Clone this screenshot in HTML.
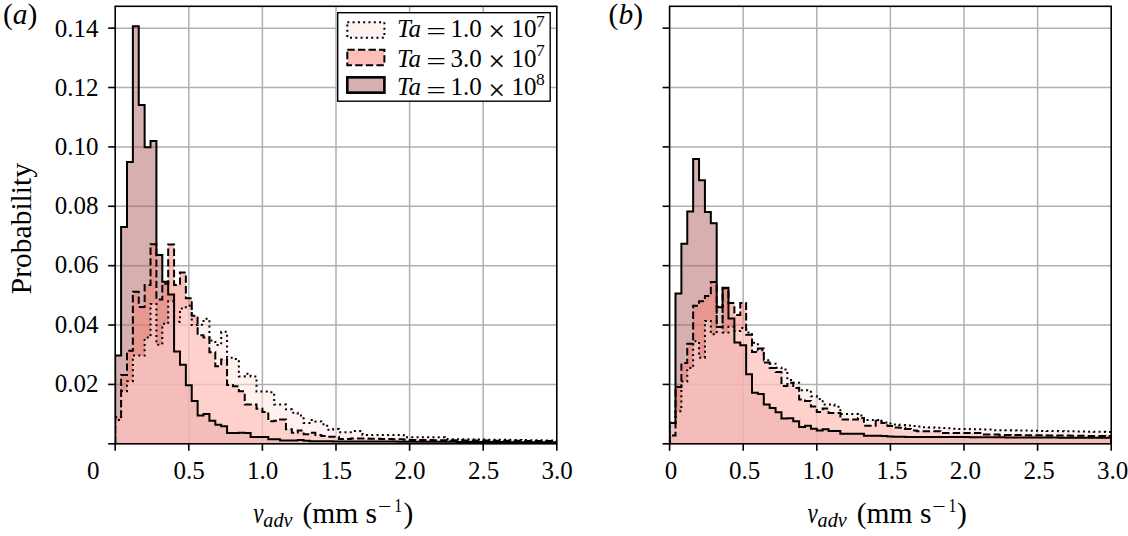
<!DOCTYPE html><html><head><meta charset="utf-8"><style>
html,body{margin:0;padding:0;background:#fff;}
svg{display:block;}
text{font-family:"Liberation Serif",serif;fill:#000;}
</style></head><body>
<svg width="1128" height="536" viewBox="0 0 1128 536">
<rect width="1128" height="536" fill="#fff"/>
<defs>
<clipPath id="clipa"><rect x="115.20" y="6.30" width="441.60" height="437.50"/></clipPath>
<clipPath id="clipb"><rect x="669.60" y="6.30" width="441.60" height="437.50"/></clipPath>
</defs>
<g stroke="#b0b0b0" stroke-width="1.5" fill="none">
<line x1="115.20" y1="384.42" x2="556.80" y2="384.42"/>
<line x1="115.20" y1="325.04" x2="556.80" y2="325.04"/>
<line x1="115.20" y1="265.66" x2="556.80" y2="265.66"/>
<line x1="115.20" y1="206.28" x2="556.80" y2="206.28"/>
<line x1="115.20" y1="146.90" x2="556.80" y2="146.90"/>
<line x1="115.20" y1="87.52" x2="556.80" y2="87.52"/>
<line x1="115.20" y1="28.14" x2="556.80" y2="28.14"/>
<line x1="188.80" y1="6.30" x2="188.80" y2="443.80"/>
<line x1="262.40" y1="6.30" x2="262.40" y2="443.80"/>
<line x1="336.00" y1="6.30" x2="336.00" y2="443.80"/>
<line x1="409.60" y1="6.30" x2="409.60" y2="443.80"/>
<line x1="483.20" y1="6.30" x2="483.20" y2="443.80"/>
</g>
<g clip-path="url(#clipa)">
<path d="M115.20,443.80 L115.20,355.62 L121.09,355.62 L121.09,227.06 L126.98,227.06 L126.98,162.04 L132.86,162.04 L132.86,26.36 L138.75,26.36 L138.75,105.04 L144.64,105.04 L144.64,147.20 L150.53,147.20 L150.53,140.96 L156.42,140.96 L156.42,254.97 L162.30,254.97 L162.30,281.69 L168.19,281.69 L168.19,294.46 L174.08,294.46 L174.08,351.46 L179.97,351.46 L179.97,364.82 L185.86,364.82 L185.86,385.31 L191.74,385.31 L191.74,401.05 L197.63,401.05 L197.63,415.59 L203.52,415.59 L203.52,414.11 L209.41,414.11 L209.41,420.64 L215.30,420.64 L215.30,424.80 L221.18,424.80 L221.18,426.28 L227.07,426.28 L227.07,433.11 L232.96,433.11 L232.96,433.11 L238.85,433.11 L238.85,432.81 L244.74,432.81 L244.74,433.11 L250.62,433.11 L250.62,436.97 L256.51,436.97 L256.51,436.97 L262.40,436.97 L262.40,436.97 L268.29,436.97 L268.29,439.35 L274.18,439.35 L274.18,439.35 L280.06,439.35 L280.06,440.53 L285.95,440.53 L285.95,440.53 L291.84,440.53 L291.84,440.53 L297.73,440.53 L297.73,439.94 L303.62,439.94 L303.62,440.83 L309.50,440.83 L309.50,441.13 L315.39,441.13 L315.39,441.13 L321.28,441.13 L321.28,441.13 L327.17,441.13 L327.17,441.13 L333.06,441.13 L333.06,441.42 L338.94,441.42 L338.94,441.42 L344.83,441.42 L344.83,441.42 L350.72,441.42 L350.72,441.42 L356.61,441.42 L356.61,441.45 L362.50,441.45 L362.50,441.48 L368.38,441.48 L368.38,441.50 L374.27,441.50 L374.27,441.53 L380.16,441.53 L380.16,441.56 L386.05,441.56 L386.05,441.58 L391.94,441.58 L391.94,441.61 L397.82,441.61 L397.82,441.63 L403.71,441.63 L403.71,441.66 L409.60,441.66 L409.60,441.69 L415.49,441.69 L415.49,441.71 L421.38,441.71 L421.38,441.74 L427.26,441.74 L427.26,441.77 L433.15,441.77 L433.15,441.79 L439.04,441.79 L439.04,441.82 L444.93,441.82 L444.93,441.84 L450.82,441.84 L450.82,441.87 L456.70,441.87 L456.70,441.90 L462.59,441.90 L462.59,441.92 L468.48,441.92 L468.48,441.95 L474.37,441.95 L474.37,441.97 L480.26,441.97 L480.26,442.00 L486.14,442.00 L486.14,442.03 L492.03,442.03 L492.03,442.05 L497.92,442.05 L497.92,442.08 L503.81,442.08 L503.81,442.11 L509.70,442.11 L509.70,442.13 L515.58,442.13 L515.58,442.16 L521.47,442.16 L521.47,442.18 L527.36,442.18 L527.36,442.21 L533.25,442.21 L533.25,442.24 L539.14,442.24 L539.14,442.26 L545.02,442.26 L545.02,442.29 L550.91,442.29 L550.91,442.32 L556.80,442.32 L556.80,443.80 Z" fill="rgb(176,96,96)" fill-opacity="0.500" stroke="none"/>
<path d="M115.20,443.80 L115.20,417.08 L121.09,417.08 L121.09,374.92 L126.98,374.92 L126.98,350.87 L132.86,350.87 L132.86,291.79 L138.75,291.79 L138.75,306.93 L144.64,306.93 L144.64,284.96 L150.53,284.96 L150.53,244.28 L156.42,244.28 L156.42,299.51 L162.30,299.51 L162.30,283.77 L168.19,283.77 L168.19,244.58 L174.08,244.58 L174.08,284.96 L179.97,284.96 L179.97,272.49 L185.86,272.49 L185.86,298.32 L191.74,298.32 L191.74,315.84 L197.63,315.84 L197.63,335.13 L203.52,335.13 L203.52,337.51 L209.41,337.51 L209.41,352.35 L215.30,352.35 L215.30,366.31 L221.18,366.31 L221.18,359.48 L227.07,359.48 L227.07,385.01 L232.96,385.01 L232.96,386.20 L238.85,386.20 L238.85,391.25 L244.74,391.25 L244.74,404.61 L250.62,404.61 L250.62,404.61 L256.51,404.61 L256.51,408.77 L262.40,408.77 L262.40,412.03 L268.29,412.03 L268.29,421.24 L274.18,421.24 L274.18,420.64 L280.06,420.64 L280.06,419.45 L285.95,419.45 L285.95,429.25 L291.84,429.25 L291.84,432.81 L297.73,432.81 L297.73,430.44 L303.62,430.44 L303.62,434.30 L309.50,434.30 L309.50,432.81 L315.39,432.81 L315.39,434.89 L321.28,434.89 L321.28,436.08 L327.17,436.08 L327.17,436.67 L333.06,436.67 L333.06,436.67 L338.94,436.67 L338.94,439.05 L344.83,439.05 L344.83,439.05 L350.72,439.05 L350.72,438.46 L356.61,438.46 L356.61,438.46 L362.50,438.46 L362.50,438.46 L368.38,438.46 L368.38,438.75 L374.27,438.75 L374.27,438.75 L380.16,438.75 L380.16,439.05 L386.05,439.05 L386.05,439.05 L391.94,439.05 L391.94,439.35 L397.82,439.35 L397.82,439.35 L403.71,439.35 L403.71,439.64 L409.60,439.64 L409.60,439.94 L415.49,439.94 L415.49,439.99 L421.38,439.99 L421.38,440.04 L427.26,440.04 L427.26,440.09 L433.15,440.09 L433.15,440.14 L439.04,440.14 L439.04,440.19 L444.93,440.19 L444.93,440.24 L450.82,440.24 L450.82,440.29 L456.70,440.29 L456.70,440.34 L462.59,440.34 L462.59,440.39 L468.48,440.39 L468.48,440.44 L474.37,440.44 L474.37,440.48 L480.26,440.48 L480.26,440.53 L486.14,440.53 L486.14,440.58 L492.03,440.58 L492.03,440.63 L497.92,440.63 L497.92,440.68 L503.81,440.68 L503.81,440.73 L509.70,440.73 L509.70,440.78 L515.58,440.78 L515.58,440.83 L521.47,440.83 L521.47,440.88 L527.36,440.88 L527.36,440.93 L533.25,440.93 L533.25,440.98 L539.14,440.98 L539.14,441.03 L545.02,441.03 L545.02,441.08 L550.91,441.08 L550.91,441.13 L556.80,441.13 L556.80,443.80 Z" fill="rgb(250,128,114)" fill-opacity="0.500" stroke="none"/>
<path d="M115.20,443.80 L115.20,420.05 L121.09,420.05 L121.09,391.25 L126.98,391.25 L126.98,381.15 L132.86,381.15 L132.86,355.62 L138.75,355.62 L138.75,355.62 L144.64,355.62 L144.64,337.51 L150.53,337.51 L150.53,303.96 L156.42,303.96 L156.42,344.64 L162.30,344.64 L162.30,323.85 L168.19,323.85 L168.19,301.29 L174.08,301.29 L174.08,321.77 L179.97,321.77 L179.97,308.41 L185.86,308.41 L185.86,305.74 L191.74,305.74 L191.74,325.04 L197.63,325.04 L197.63,324.74 L203.52,324.74 L203.52,318.81 L209.41,318.81 L209.41,340.48 L215.30,340.48 L215.30,344.93 L221.18,344.93 L221.18,331.87 L227.07,331.87 L227.07,357.70 L232.96,357.70 L232.96,358.89 L238.85,358.89 L238.85,376.40 L244.74,376.40 L244.74,373.73 L250.62,373.73 L250.62,376.40 L256.51,376.40 L256.51,391.55 L262.40,391.55 L262.40,391.55 L268.29,391.55 L268.29,392.14 L274.18,392.14 L274.18,404.61 L280.06,404.61 L280.06,404.61 L285.95,404.61 L285.95,409.36 L291.84,409.36 L291.84,412.63 L297.73,412.63 L297.73,415.59 L303.62,415.59 L303.62,423.02 L309.50,423.02 L309.50,420.05 L315.39,420.05 L315.39,421.53 L321.28,421.53 L321.28,424.20 L327.17,424.20 L327.17,429.85 L333.06,429.85 L333.06,428.95 L338.94,428.95 L338.94,432.22 L344.83,432.22 L344.83,432.22 L350.72,432.22 L350.72,431.03 L356.61,431.03 L356.61,431.03 L362.50,431.03 L362.50,434.89 L368.38,434.89 L368.38,434.89 L374.27,434.89 L374.27,434.89 L380.16,434.89 L380.16,434.89 L386.05,434.89 L386.05,434.89 L391.94,434.89 L391.94,434.89 L397.82,434.89 L397.82,434.89 L403.71,434.89 L403.71,437.27 L409.60,437.27 L409.60,437.27 L415.49,437.27 L415.49,437.27 L421.38,437.27 L421.38,437.27 L427.26,437.27 L427.26,437.27 L433.15,437.27 L433.15,437.27 L439.04,437.27 L439.04,437.27 L444.93,437.27 L444.93,439.05 L450.82,439.05 L450.82,439.13 L456.70,439.13 L456.70,439.21 L462.59,439.21 L462.59,439.30 L468.48,439.30 L468.48,439.38 L474.37,439.38 L474.37,439.46 L480.26,439.46 L480.26,439.54 L486.14,439.54 L486.14,439.63 L492.03,439.63 L492.03,439.71 L497.92,439.71 L497.92,439.79 L503.81,439.79 L503.81,439.87 L509.70,439.87 L509.70,439.96 L515.58,439.96 L515.58,440.04 L521.47,440.04 L521.47,440.12 L527.36,440.12 L527.36,440.20 L533.25,440.20 L533.25,440.29 L539.14,440.29 L539.14,440.37 L545.02,440.37 L545.02,440.45 L550.91,440.45 L550.91,440.53 L556.80,440.53 L556.80,443.80 Z" fill="rgb(255,228,225)" fill-opacity="0.500" stroke="none"/>
<path d="M115.20,443.80 L115.20,355.62 L121.09,355.62 L121.09,227.06 L126.98,227.06 L126.98,162.04 L132.86,162.04 L132.86,26.36 L138.75,26.36 L138.75,105.04 L144.64,105.04 L144.64,147.20 L150.53,147.20 L150.53,140.96 L156.42,140.96 L156.42,254.97 L162.30,254.97 L162.30,281.69 L168.19,281.69 L168.19,294.46 L174.08,294.46 L174.08,351.46 L179.97,351.46 L179.97,364.82 L185.86,364.82 L185.86,385.31 L191.74,385.31 L191.74,401.05 L197.63,401.05 L197.63,415.59 L203.52,415.59 L203.52,414.11 L209.41,414.11 L209.41,420.64 L215.30,420.64 L215.30,424.80 L221.18,424.80 L221.18,426.28 L227.07,426.28 L227.07,433.11 L232.96,433.11 L232.96,433.11 L238.85,433.11 L238.85,432.81 L244.74,432.81 L244.74,433.11 L250.62,433.11 L250.62,436.97 L256.51,436.97 L256.51,436.97 L262.40,436.97 L262.40,436.97 L268.29,436.97 L268.29,439.35 L274.18,439.35 L274.18,439.35 L280.06,439.35 L280.06,440.53 L285.95,440.53 L285.95,440.53 L291.84,440.53 L291.84,440.53 L297.73,440.53 L297.73,439.94 L303.62,439.94 L303.62,440.83 L309.50,440.83 L309.50,441.13 L315.39,441.13 L315.39,441.13 L321.28,441.13 L321.28,441.13 L327.17,441.13 L327.17,441.13 L333.06,441.13 L333.06,441.42 L338.94,441.42 L338.94,441.42 L344.83,441.42 L344.83,441.42 L350.72,441.42 L350.72,441.42 L356.61,441.42 L356.61,441.45 L362.50,441.45 L362.50,441.48 L368.38,441.48 L368.38,441.50 L374.27,441.50 L374.27,441.53 L380.16,441.53 L380.16,441.56 L386.05,441.56 L386.05,441.58 L391.94,441.58 L391.94,441.61 L397.82,441.61 L397.82,441.63 L403.71,441.63 L403.71,441.66 L409.60,441.66 L409.60,441.69 L415.49,441.69 L415.49,441.71 L421.38,441.71 L421.38,441.74 L427.26,441.74 L427.26,441.77 L433.15,441.77 L433.15,441.79 L439.04,441.79 L439.04,441.82 L444.93,441.82 L444.93,441.84 L450.82,441.84 L450.82,441.87 L456.70,441.87 L456.70,441.90 L462.59,441.90 L462.59,441.92 L468.48,441.92 L468.48,441.95 L474.37,441.95 L474.37,441.97 L480.26,441.97 L480.26,442.00 L486.14,442.00 L486.14,442.03 L492.03,442.03 L492.03,442.05 L497.92,442.05 L497.92,442.08 L503.81,442.08 L503.81,442.11 L509.70,442.11 L509.70,442.13 L515.58,442.13 L515.58,442.16 L521.47,442.16 L521.47,442.18 L527.36,442.18 L527.36,442.21 L533.25,442.21 L533.25,442.24 L539.14,442.24 L539.14,442.26 L545.02,442.26 L545.02,442.29 L550.91,442.29 L550.91,442.32 L556.80,442.32 L556.80,443.80" fill="none" stroke="#000" stroke-width="2.00" stroke-linejoin="miter"/>
<path d="M115.20,443.80 L115.20,417.08 L121.09,417.08 L121.09,374.92 L126.98,374.92 L126.98,350.87 L132.86,350.87 L132.86,291.79 L138.75,291.79 L138.75,306.93 L144.64,306.93 L144.64,284.96 L150.53,284.96 L150.53,244.28 L156.42,244.28 L156.42,299.51 L162.30,299.51 L162.30,283.77 L168.19,283.77 L168.19,244.58 L174.08,244.58 L174.08,284.96 L179.97,284.96 L179.97,272.49 L185.86,272.49 L185.86,298.32 L191.74,298.32 L191.74,315.84 L197.63,315.84 L197.63,335.13 L203.52,335.13 L203.52,337.51 L209.41,337.51 L209.41,352.35 L215.30,352.35 L215.30,366.31 L221.18,366.31 L221.18,359.48 L227.07,359.48 L227.07,385.01 L232.96,385.01 L232.96,386.20 L238.85,386.20 L238.85,391.25 L244.74,391.25 L244.74,404.61 L250.62,404.61 L250.62,404.61 L256.51,404.61 L256.51,408.77 L262.40,408.77 L262.40,412.03 L268.29,412.03 L268.29,421.24 L274.18,421.24 L274.18,420.64 L280.06,420.64 L280.06,419.45 L285.95,419.45 L285.95,429.25 L291.84,429.25 L291.84,432.81 L297.73,432.81 L297.73,430.44 L303.62,430.44 L303.62,434.30 L309.50,434.30 L309.50,432.81 L315.39,432.81 L315.39,434.89 L321.28,434.89 L321.28,436.08 L327.17,436.08 L327.17,436.67 L333.06,436.67 L333.06,436.67 L338.94,436.67 L338.94,439.05 L344.83,439.05 L344.83,439.05 L350.72,439.05 L350.72,438.46 L356.61,438.46 L356.61,438.46 L362.50,438.46 L362.50,438.46 L368.38,438.46 L368.38,438.75 L374.27,438.75 L374.27,438.75 L380.16,438.75 L380.16,439.05 L386.05,439.05 L386.05,439.05 L391.94,439.05 L391.94,439.35 L397.82,439.35 L397.82,439.35 L403.71,439.35 L403.71,439.64 L409.60,439.64 L409.60,439.94 L415.49,439.94 L415.49,439.99 L421.38,439.99 L421.38,440.04 L427.26,440.04 L427.26,440.09 L433.15,440.09 L433.15,440.14 L439.04,440.14 L439.04,440.19 L444.93,440.19 L444.93,440.24 L450.82,440.24 L450.82,440.29 L456.70,440.29 L456.70,440.34 L462.59,440.34 L462.59,440.39 L468.48,440.39 L468.48,440.44 L474.37,440.44 L474.37,440.48 L480.26,440.48 L480.26,440.53 L486.14,440.53 L486.14,440.58 L492.03,440.58 L492.03,440.63 L497.92,440.63 L497.92,440.68 L503.81,440.68 L503.81,440.73 L509.70,440.73 L509.70,440.78 L515.58,440.78 L515.58,440.83 L521.47,440.83 L521.47,440.88 L527.36,440.88 L527.36,440.93 L533.25,440.93 L533.25,440.98 L539.14,440.98 L539.14,441.03 L545.02,441.03 L545.02,441.08 L550.91,441.08 L550.91,441.13 L556.80,441.13 L556.80,443.80" fill="none" stroke="#000" stroke-width="2.00" stroke-dasharray="7.4,3.2"/>
<path d="M115.20,443.80 L115.20,420.05 L121.09,420.05 L121.09,391.25 L126.98,391.25 L126.98,381.15 L132.86,381.15 L132.86,355.62 L138.75,355.62 L138.75,355.62 L144.64,355.62 L144.64,337.51 L150.53,337.51 L150.53,303.96 L156.42,303.96 L156.42,344.64 L162.30,344.64 L162.30,323.85 L168.19,323.85 L168.19,301.29 L174.08,301.29 L174.08,321.77 L179.97,321.77 L179.97,308.41 L185.86,308.41 L185.86,305.74 L191.74,305.74 L191.74,325.04 L197.63,325.04 L197.63,324.74 L203.52,324.74 L203.52,318.81 L209.41,318.81 L209.41,340.48 L215.30,340.48 L215.30,344.93 L221.18,344.93 L221.18,331.87 L227.07,331.87 L227.07,357.70 L232.96,357.70 L232.96,358.89 L238.85,358.89 L238.85,376.40 L244.74,376.40 L244.74,373.73 L250.62,373.73 L250.62,376.40 L256.51,376.40 L256.51,391.55 L262.40,391.55 L262.40,391.55 L268.29,391.55 L268.29,392.14 L274.18,392.14 L274.18,404.61 L280.06,404.61 L280.06,404.61 L285.95,404.61 L285.95,409.36 L291.84,409.36 L291.84,412.63 L297.73,412.63 L297.73,415.59 L303.62,415.59 L303.62,423.02 L309.50,423.02 L309.50,420.05 L315.39,420.05 L315.39,421.53 L321.28,421.53 L321.28,424.20 L327.17,424.20 L327.17,429.85 L333.06,429.85 L333.06,428.95 L338.94,428.95 L338.94,432.22 L344.83,432.22 L344.83,432.22 L350.72,432.22 L350.72,431.03 L356.61,431.03 L356.61,431.03 L362.50,431.03 L362.50,434.89 L368.38,434.89 L368.38,434.89 L374.27,434.89 L374.27,434.89 L380.16,434.89 L380.16,434.89 L386.05,434.89 L386.05,434.89 L391.94,434.89 L391.94,434.89 L397.82,434.89 L397.82,434.89 L403.71,434.89 L403.71,437.27 L409.60,437.27 L409.60,437.27 L415.49,437.27 L415.49,437.27 L421.38,437.27 L421.38,437.27 L427.26,437.27 L427.26,437.27 L433.15,437.27 L433.15,437.27 L439.04,437.27 L439.04,437.27 L444.93,437.27 L444.93,439.05 L450.82,439.05 L450.82,439.13 L456.70,439.13 L456.70,439.21 L462.59,439.21 L462.59,439.30 L468.48,439.30 L468.48,439.38 L474.37,439.38 L474.37,439.46 L480.26,439.46 L480.26,439.54 L486.14,439.54 L486.14,439.63 L492.03,439.63 L492.03,439.71 L497.92,439.71 L497.92,439.79 L503.81,439.79 L503.81,439.87 L509.70,439.87 L509.70,439.96 L515.58,439.96 L515.58,440.04 L521.47,440.04 L521.47,440.12 L527.36,440.12 L527.36,440.20 L533.25,440.20 L533.25,440.29 L539.14,440.29 L539.14,440.37 L545.02,440.37 L545.02,440.45 L550.91,440.45 L550.91,440.53 L556.80,440.53 L556.80,443.80" fill="none" stroke="#000" stroke-width="2.00" stroke-dasharray="2,3.3"/>
</g>
<rect x="115.20" y="6.30" width="441.60" height="437.50" fill="none" stroke="#000" stroke-width="1.6"/>
<g stroke="#000" stroke-width="1.6">
<line x1="108.20" y1="443.80" x2="115.20" y2="443.80"/>
<line x1="108.20" y1="384.42" x2="115.20" y2="384.42"/>
<line x1="108.20" y1="325.04" x2="115.20" y2="325.04"/>
<line x1="108.20" y1="265.66" x2="115.20" y2="265.66"/>
<line x1="108.20" y1="206.28" x2="115.20" y2="206.28"/>
<line x1="108.20" y1="146.90" x2="115.20" y2="146.90"/>
<line x1="108.20" y1="87.52" x2="115.20" y2="87.52"/>
<line x1="108.20" y1="28.14" x2="115.20" y2="28.14"/>
<line x1="115.20" y1="443.80" x2="115.20" y2="450.80"/>
<line x1="188.80" y1="443.80" x2="188.80" y2="450.80"/>
<line x1="262.40" y1="443.80" x2="262.40" y2="450.80"/>
<line x1="336.00" y1="443.80" x2="336.00" y2="450.80"/>
<line x1="409.60" y1="443.80" x2="409.60" y2="450.80"/>
<line x1="483.20" y1="443.80" x2="483.20" y2="450.80"/>
<line x1="556.80" y1="443.80" x2="556.80" y2="450.80"/>
</g>
<g font-size="25" text-anchor="middle">
<text x="99.40" y="479.3" text-anchor="end">0</text>
<text x="189.10" y="479.3">0.5</text>
<text x="262.70" y="479.3">1.0</text>
<text x="336.30" y="479.3">1.5</text>
<text x="409.90" y="479.3">2.0</text>
<text x="483.50" y="479.3">2.5</text>
<text x="557.10" y="479.3">3.0</text>
</g>
<text transform="translate(253.30,522.7) scale(0.78,1)" font-size="29.5" font-style="italic">v</text>
<text x="263.30" y="526.6" font-size="20.2" font-style="italic">adv</text>
<text x="302.50" y="522.7" font-size="29.5">(mm s</text>
<text transform="translate(377.90,513.1) scale(1.25,1)" font-size="19">−</text>
<text transform="translate(394.20,512.0) scale(0.8,1)" font-size="19.7">1</text>
<text x="403.50" y="522.7" font-size="29.5">)</text>
<g stroke="#b0b0b0" stroke-width="1.5" fill="none">
<line x1="669.60" y1="384.42" x2="1111.20" y2="384.42"/>
<line x1="669.60" y1="325.04" x2="1111.20" y2="325.04"/>
<line x1="669.60" y1="265.66" x2="1111.20" y2="265.66"/>
<line x1="669.60" y1="206.28" x2="1111.20" y2="206.28"/>
<line x1="669.60" y1="146.90" x2="1111.20" y2="146.90"/>
<line x1="669.60" y1="87.52" x2="1111.20" y2="87.52"/>
<line x1="669.60" y1="28.14" x2="1111.20" y2="28.14"/>
<line x1="743.20" y1="6.30" x2="743.20" y2="443.80"/>
<line x1="816.80" y1="6.30" x2="816.80" y2="443.80"/>
<line x1="890.40" y1="6.30" x2="890.40" y2="443.80"/>
<line x1="964.00" y1="6.30" x2="964.00" y2="443.80"/>
<line x1="1037.60" y1="6.30" x2="1037.60" y2="443.80"/>
</g>
<g clip-path="url(#clipb)">
<path d="M669.60,443.80 L669.60,423.02 L675.49,423.02 L675.49,293.57 L681.38,293.57 L681.38,243.69 L687.26,243.69 L687.26,211.62 L693.15,211.62 L693.15,159.07 L699.04,159.07 L699.04,180.15 L704.93,180.15 L704.93,211.92 L710.82,211.92 L710.82,223.20 L716.70,223.20 L716.70,307.23 L722.59,307.23 L722.59,287.63 L728.48,287.63 L728.48,318.51 L734.37,318.51 L734.37,342.56 L740.26,342.56 L740.26,345.23 L746.14,345.23 L746.14,374.33 L752.03,374.33 L752.03,392.73 L757.92,392.73 L757.92,393.92 L763.81,393.92 L763.81,404.61 L769.70,404.61 L769.70,407.88 L775.58,407.88 L775.58,412.33 L781.47,412.33 L781.47,418.56 L787.36,418.56 L787.36,418.27 L793.25,418.27 L793.25,421.24 L799.14,421.24 L799.14,426.88 L805.02,426.88 L805.02,425.69 L810.91,425.69 L810.91,428.66 L816.80,428.66 L816.80,430.44 L822.69,430.44 L822.69,429.25 L828.58,429.25 L828.58,431.03 L834.46,431.03 L834.46,431.03 L840.35,431.03 L840.35,433.71 L846.24,433.71 L846.24,433.71 L852.13,433.71 L852.13,433.71 L858.02,433.71 L858.02,433.71 L863.90,433.71 L863.90,435.78 L869.79,435.78 L869.79,435.78 L875.68,435.78 L875.68,435.78 L881.57,435.78 L881.57,436.08 L887.46,436.08 L887.46,436.38 L893.34,436.38 L893.34,436.67 L899.23,436.67 L899.23,436.67 L905.12,436.67 L905.12,436.97 L911.01,436.97 L911.01,436.97 L916.90,436.97 L916.90,436.97 L922.78,436.97 L922.78,436.97 L928.67,436.97 L928.67,436.97 L934.56,436.97 L934.56,436.97 L940.45,436.97 L940.45,436.97 L946.34,436.97 L946.34,436.97 L952.22,436.97 L952.22,436.97 L958.11,436.97 L958.11,436.97 L964.00,436.97 L964.00,436.97 L969.89,436.97 L969.89,437.27 L975.78,437.27 L975.78,437.27 L981.66,437.27 L981.66,437.27 L987.55,437.27 L987.55,437.30 L993.44,437.30 L993.44,437.32 L999.33,437.32 L999.33,437.35 L1005.22,437.35 L1005.22,437.38 L1011.10,437.38 L1011.10,437.41 L1016.99,437.41 L1016.99,437.44 L1022.88,437.44 L1022.88,437.47 L1028.77,437.47 L1028.77,437.49 L1034.66,437.49 L1034.66,437.52 L1040.54,437.52 L1040.54,437.55 L1046.43,437.55 L1046.43,437.58 L1052.32,437.58 L1052.32,437.61 L1058.21,437.61 L1058.21,437.64 L1064.10,437.64 L1064.10,437.66 L1069.98,437.66 L1069.98,437.69 L1075.87,437.69 L1075.87,437.72 L1081.76,437.72 L1081.76,437.75 L1087.65,437.75 L1087.65,437.78 L1093.54,437.78 L1093.54,437.81 L1099.42,437.81 L1099.42,437.83 L1105.31,437.83 L1105.31,437.86 L1111.20,437.86 L1111.20,443.80 Z" fill="rgb(176,96,96)" fill-opacity="0.500" stroke="none"/>
<path d="M669.60,443.80 L669.60,435.49 L675.49,435.49 L675.49,387.09 L681.38,387.09 L681.38,363.04 L687.26,363.04 L687.26,343.74 L693.15,343.74 L693.15,305.74 L699.04,305.74 L699.04,301.29 L704.93,301.29 L704.93,295.94 L710.82,295.94 L710.82,281.99 L716.70,281.99 L716.70,327.12 L722.59,327.12 L722.59,288.22 L728.48,288.22 L728.48,303.07 L734.37,303.07 L734.37,314.95 L740.26,314.95 L740.26,303.07 L746.14,303.07 L746.14,334.84 L752.03,334.84 L752.03,352.06 L757.92,352.06 L757.92,348.50 L763.81,348.50 L763.81,362.45 L769.70,362.45 L769.70,368.09 L775.58,368.09 L775.58,371.95 L781.47,371.95 L781.47,385.90 L787.36,385.90 L787.36,382.64 L793.25,382.64 L793.25,387.98 L799.14,387.98 L799.14,399.56 L805.02,399.56 L805.02,401.05 L810.91,401.05 L810.91,406.39 L816.80,406.39 L816.80,412.03 L822.69,412.03 L822.69,408.47 L828.58,408.47 L828.58,412.92 L834.46,412.92 L834.46,412.92 L840.35,412.92 L840.35,419.45 L846.24,419.45 L846.24,419.45 L852.13,419.45 L852.13,419.45 L858.02,419.45 L858.02,417.97 L863.90,417.97 L863.90,425.69 L869.79,425.69 L869.79,425.69 L875.68,425.69 L875.68,420.64 L881.57,420.64 L881.57,423.02 L887.46,423.02 L887.46,425.99 L893.34,425.99 L893.34,427.47 L899.23,427.47 L899.23,427.77 L905.12,427.77 L905.12,428.95 L911.01,428.95 L911.01,430.44 L916.90,430.44 L916.90,431.33 L922.78,431.33 L922.78,431.33 L928.67,431.33 L928.67,431.33 L934.56,431.33 L934.56,431.33 L940.45,431.33 L940.45,433.11 L946.34,433.11 L946.34,433.11 L952.22,433.11 L952.22,433.11 L958.11,433.11 L958.11,433.11 L964.00,433.11 L964.00,433.11 L969.89,433.11 L969.89,433.11 L975.78,433.11 L975.78,433.11 L981.66,433.11 L981.66,434.60 L987.55,434.60 L987.55,434.60 L993.44,434.60 L993.44,434.60 L999.33,434.60 L999.33,434.89 L1005.22,434.89 L1005.22,434.96 L1011.10,434.96 L1011.10,435.02 L1016.99,435.02 L1016.99,435.09 L1022.88,435.09 L1022.88,435.16 L1028.77,435.16 L1028.77,435.22 L1034.66,435.22 L1034.66,435.29 L1040.54,435.29 L1040.54,435.35 L1046.43,435.35 L1046.43,435.42 L1052.32,435.42 L1052.32,435.49 L1058.21,435.49 L1058.21,435.55 L1064.10,435.55 L1064.10,435.62 L1069.98,435.62 L1069.98,435.68 L1075.87,435.68 L1075.87,435.75 L1081.76,435.75 L1081.76,435.82 L1087.65,435.82 L1087.65,435.88 L1093.54,435.88 L1093.54,435.95 L1099.42,435.95 L1099.42,436.01 L1105.31,436.01 L1105.31,436.08 L1111.20,436.08 L1111.20,443.80 Z" fill="rgb(250,128,114)" fill-opacity="0.500" stroke="none"/>
<path d="M669.60,443.80 L669.60,422.42 L675.49,422.42 L675.49,411.14 L681.38,411.14 L681.38,381.45 L687.26,381.45 L687.26,368.09 L693.15,368.09 L693.15,341.37 L699.04,341.37 L699.04,357.70 L704.93,357.70 L704.93,320.88 L710.82,320.88 L710.82,334.24 L716.70,334.24 L716.70,306.34 L722.59,306.34 L722.59,332.46 L728.48,332.46 L728.48,326.82 L734.37,326.82 L734.37,330.98 L740.26,330.98 L740.26,328.01 L746.14,328.01 L746.14,332.46 L752.03,332.46 L752.03,342.85 L757.92,342.85 L757.92,350.28 L763.81,350.28 L763.81,360.37 L769.70,360.37 L769.70,363.64 L775.58,363.64 L775.58,367.79 L781.47,367.79 L781.47,369.57 L787.36,369.57 L787.36,379.97 L793.25,379.97 L793.25,382.64 L799.14,382.64 L799.14,390.36 L805.02,390.36 L805.02,390.36 L810.91,390.36 L810.91,396.30 L816.80,396.30 L816.80,398.97 L822.69,398.97 L822.69,404.61 L828.58,404.61 L828.58,404.61 L834.46,404.61 L834.46,406.69 L840.35,406.69 L840.35,414.11 L846.24,414.11 L846.24,414.11 L852.13,414.11 L852.13,414.11 L858.02,414.11 L858.02,415.59 L863.90,415.59 L863.90,420.05 L869.79,420.05 L869.79,420.05 L875.68,420.05 L875.68,420.05 L881.57,420.05 L881.57,422.42 L887.46,422.42 L887.46,423.61 L893.34,423.61 L893.34,424.50 L899.23,424.50 L899.23,425.10 L905.12,425.10 L905.12,425.39 L911.01,425.39 L911.01,425.99 L916.90,425.99 L916.90,426.58 L922.78,426.58 L922.78,427.17 L928.67,427.17 L928.67,427.47 L934.56,427.47 L934.56,427.77 L940.45,427.77 L940.45,428.06 L946.34,428.06 L946.34,428.36 L952.22,428.36 L952.22,428.66 L958.11,428.66 L958.11,428.95 L964.00,428.95 L964.00,428.95 L969.89,428.95 L969.89,429.25 L975.78,429.25 L975.78,429.25 L981.66,429.25 L981.66,429.55 L987.55,429.55 L987.55,429.55 L993.44,429.55 L993.44,430.14 L999.33,430.14 L999.33,430.24 L1005.22,430.24 L1005.22,430.33 L1011.10,430.33 L1011.10,430.42 L1016.99,430.42 L1016.99,430.52 L1022.88,430.52 L1022.88,430.61 L1028.77,430.61 L1028.77,430.71 L1034.66,430.71 L1034.66,430.80 L1040.54,430.80 L1040.54,430.89 L1046.43,430.89 L1046.43,430.99 L1052.32,430.99 L1052.32,431.08 L1058.21,431.08 L1058.21,431.17 L1064.10,431.17 L1064.10,431.27 L1069.98,431.27 L1069.98,431.36 L1075.87,431.36 L1075.87,431.46 L1081.76,431.46 L1081.76,431.55 L1087.65,431.55 L1087.65,431.64 L1093.54,431.64 L1093.54,431.74 L1099.42,431.74 L1099.42,431.83 L1105.31,431.83 L1105.31,431.92 L1111.20,431.92 L1111.20,443.80 Z" fill="rgb(255,228,225)" fill-opacity="0.500" stroke="none"/>
<path d="M669.60,443.80 L669.60,423.02 L675.49,423.02 L675.49,293.57 L681.38,293.57 L681.38,243.69 L687.26,243.69 L687.26,211.62 L693.15,211.62 L693.15,159.07 L699.04,159.07 L699.04,180.15 L704.93,180.15 L704.93,211.92 L710.82,211.92 L710.82,223.20 L716.70,223.20 L716.70,307.23 L722.59,307.23 L722.59,287.63 L728.48,287.63 L728.48,318.51 L734.37,318.51 L734.37,342.56 L740.26,342.56 L740.26,345.23 L746.14,345.23 L746.14,374.33 L752.03,374.33 L752.03,392.73 L757.92,392.73 L757.92,393.92 L763.81,393.92 L763.81,404.61 L769.70,404.61 L769.70,407.88 L775.58,407.88 L775.58,412.33 L781.47,412.33 L781.47,418.56 L787.36,418.56 L787.36,418.27 L793.25,418.27 L793.25,421.24 L799.14,421.24 L799.14,426.88 L805.02,426.88 L805.02,425.69 L810.91,425.69 L810.91,428.66 L816.80,428.66 L816.80,430.44 L822.69,430.44 L822.69,429.25 L828.58,429.25 L828.58,431.03 L834.46,431.03 L834.46,431.03 L840.35,431.03 L840.35,433.71 L846.24,433.71 L846.24,433.71 L852.13,433.71 L852.13,433.71 L858.02,433.71 L858.02,433.71 L863.90,433.71 L863.90,435.78 L869.79,435.78 L869.79,435.78 L875.68,435.78 L875.68,435.78 L881.57,435.78 L881.57,436.08 L887.46,436.08 L887.46,436.38 L893.34,436.38 L893.34,436.67 L899.23,436.67 L899.23,436.67 L905.12,436.67 L905.12,436.97 L911.01,436.97 L911.01,436.97 L916.90,436.97 L916.90,436.97 L922.78,436.97 L922.78,436.97 L928.67,436.97 L928.67,436.97 L934.56,436.97 L934.56,436.97 L940.45,436.97 L940.45,436.97 L946.34,436.97 L946.34,436.97 L952.22,436.97 L952.22,436.97 L958.11,436.97 L958.11,436.97 L964.00,436.97 L964.00,436.97 L969.89,436.97 L969.89,437.27 L975.78,437.27 L975.78,437.27 L981.66,437.27 L981.66,437.27 L987.55,437.27 L987.55,437.30 L993.44,437.30 L993.44,437.32 L999.33,437.32 L999.33,437.35 L1005.22,437.35 L1005.22,437.38 L1011.10,437.38 L1011.10,437.41 L1016.99,437.41 L1016.99,437.44 L1022.88,437.44 L1022.88,437.47 L1028.77,437.47 L1028.77,437.49 L1034.66,437.49 L1034.66,437.52 L1040.54,437.52 L1040.54,437.55 L1046.43,437.55 L1046.43,437.58 L1052.32,437.58 L1052.32,437.61 L1058.21,437.61 L1058.21,437.64 L1064.10,437.64 L1064.10,437.66 L1069.98,437.66 L1069.98,437.69 L1075.87,437.69 L1075.87,437.72 L1081.76,437.72 L1081.76,437.75 L1087.65,437.75 L1087.65,437.78 L1093.54,437.78 L1093.54,437.81 L1099.42,437.81 L1099.42,437.83 L1105.31,437.83 L1105.31,437.86 L1111.20,437.86 L1111.20,443.80" fill="none" stroke="#000" stroke-width="2.00" stroke-linejoin="miter"/>
<path d="M669.60,443.80 L669.60,435.49 L675.49,435.49 L675.49,387.09 L681.38,387.09 L681.38,363.04 L687.26,363.04 L687.26,343.74 L693.15,343.74 L693.15,305.74 L699.04,305.74 L699.04,301.29 L704.93,301.29 L704.93,295.94 L710.82,295.94 L710.82,281.99 L716.70,281.99 L716.70,327.12 L722.59,327.12 L722.59,288.22 L728.48,288.22 L728.48,303.07 L734.37,303.07 L734.37,314.95 L740.26,314.95 L740.26,303.07 L746.14,303.07 L746.14,334.84 L752.03,334.84 L752.03,352.06 L757.92,352.06 L757.92,348.50 L763.81,348.50 L763.81,362.45 L769.70,362.45 L769.70,368.09 L775.58,368.09 L775.58,371.95 L781.47,371.95 L781.47,385.90 L787.36,385.90 L787.36,382.64 L793.25,382.64 L793.25,387.98 L799.14,387.98 L799.14,399.56 L805.02,399.56 L805.02,401.05 L810.91,401.05 L810.91,406.39 L816.80,406.39 L816.80,412.03 L822.69,412.03 L822.69,408.47 L828.58,408.47 L828.58,412.92 L834.46,412.92 L834.46,412.92 L840.35,412.92 L840.35,419.45 L846.24,419.45 L846.24,419.45 L852.13,419.45 L852.13,419.45 L858.02,419.45 L858.02,417.97 L863.90,417.97 L863.90,425.69 L869.79,425.69 L869.79,425.69 L875.68,425.69 L875.68,420.64 L881.57,420.64 L881.57,423.02 L887.46,423.02 L887.46,425.99 L893.34,425.99 L893.34,427.47 L899.23,427.47 L899.23,427.77 L905.12,427.77 L905.12,428.95 L911.01,428.95 L911.01,430.44 L916.90,430.44 L916.90,431.33 L922.78,431.33 L922.78,431.33 L928.67,431.33 L928.67,431.33 L934.56,431.33 L934.56,431.33 L940.45,431.33 L940.45,433.11 L946.34,433.11 L946.34,433.11 L952.22,433.11 L952.22,433.11 L958.11,433.11 L958.11,433.11 L964.00,433.11 L964.00,433.11 L969.89,433.11 L969.89,433.11 L975.78,433.11 L975.78,433.11 L981.66,433.11 L981.66,434.60 L987.55,434.60 L987.55,434.60 L993.44,434.60 L993.44,434.60 L999.33,434.60 L999.33,434.89 L1005.22,434.89 L1005.22,434.96 L1011.10,434.96 L1011.10,435.02 L1016.99,435.02 L1016.99,435.09 L1022.88,435.09 L1022.88,435.16 L1028.77,435.16 L1028.77,435.22 L1034.66,435.22 L1034.66,435.29 L1040.54,435.29 L1040.54,435.35 L1046.43,435.35 L1046.43,435.42 L1052.32,435.42 L1052.32,435.49 L1058.21,435.49 L1058.21,435.55 L1064.10,435.55 L1064.10,435.62 L1069.98,435.62 L1069.98,435.68 L1075.87,435.68 L1075.87,435.75 L1081.76,435.75 L1081.76,435.82 L1087.65,435.82 L1087.65,435.88 L1093.54,435.88 L1093.54,435.95 L1099.42,435.95 L1099.42,436.01 L1105.31,436.01 L1105.31,436.08 L1111.20,436.08 L1111.20,443.80" fill="none" stroke="#000" stroke-width="2.00" stroke-dasharray="7.4,3.2"/>
<path d="M669.60,443.80 L669.60,422.42 L675.49,422.42 L675.49,411.14 L681.38,411.14 L681.38,381.45 L687.26,381.45 L687.26,368.09 L693.15,368.09 L693.15,341.37 L699.04,341.37 L699.04,357.70 L704.93,357.70 L704.93,320.88 L710.82,320.88 L710.82,334.24 L716.70,334.24 L716.70,306.34 L722.59,306.34 L722.59,332.46 L728.48,332.46 L728.48,326.82 L734.37,326.82 L734.37,330.98 L740.26,330.98 L740.26,328.01 L746.14,328.01 L746.14,332.46 L752.03,332.46 L752.03,342.85 L757.92,342.85 L757.92,350.28 L763.81,350.28 L763.81,360.37 L769.70,360.37 L769.70,363.64 L775.58,363.64 L775.58,367.79 L781.47,367.79 L781.47,369.57 L787.36,369.57 L787.36,379.97 L793.25,379.97 L793.25,382.64 L799.14,382.64 L799.14,390.36 L805.02,390.36 L805.02,390.36 L810.91,390.36 L810.91,396.30 L816.80,396.30 L816.80,398.97 L822.69,398.97 L822.69,404.61 L828.58,404.61 L828.58,404.61 L834.46,404.61 L834.46,406.69 L840.35,406.69 L840.35,414.11 L846.24,414.11 L846.24,414.11 L852.13,414.11 L852.13,414.11 L858.02,414.11 L858.02,415.59 L863.90,415.59 L863.90,420.05 L869.79,420.05 L869.79,420.05 L875.68,420.05 L875.68,420.05 L881.57,420.05 L881.57,422.42 L887.46,422.42 L887.46,423.61 L893.34,423.61 L893.34,424.50 L899.23,424.50 L899.23,425.10 L905.12,425.10 L905.12,425.39 L911.01,425.39 L911.01,425.99 L916.90,425.99 L916.90,426.58 L922.78,426.58 L922.78,427.17 L928.67,427.17 L928.67,427.47 L934.56,427.47 L934.56,427.77 L940.45,427.77 L940.45,428.06 L946.34,428.06 L946.34,428.36 L952.22,428.36 L952.22,428.66 L958.11,428.66 L958.11,428.95 L964.00,428.95 L964.00,428.95 L969.89,428.95 L969.89,429.25 L975.78,429.25 L975.78,429.25 L981.66,429.25 L981.66,429.55 L987.55,429.55 L987.55,429.55 L993.44,429.55 L993.44,430.14 L999.33,430.14 L999.33,430.24 L1005.22,430.24 L1005.22,430.33 L1011.10,430.33 L1011.10,430.42 L1016.99,430.42 L1016.99,430.52 L1022.88,430.52 L1022.88,430.61 L1028.77,430.61 L1028.77,430.71 L1034.66,430.71 L1034.66,430.80 L1040.54,430.80 L1040.54,430.89 L1046.43,430.89 L1046.43,430.99 L1052.32,430.99 L1052.32,431.08 L1058.21,431.08 L1058.21,431.17 L1064.10,431.17 L1064.10,431.27 L1069.98,431.27 L1069.98,431.36 L1075.87,431.36 L1075.87,431.46 L1081.76,431.46 L1081.76,431.55 L1087.65,431.55 L1087.65,431.64 L1093.54,431.64 L1093.54,431.74 L1099.42,431.74 L1099.42,431.83 L1105.31,431.83 L1105.31,431.92 L1111.20,431.92 L1111.20,443.80" fill="none" stroke="#000" stroke-width="2.00" stroke-dasharray="2,3.3"/>
</g>
<rect x="669.60" y="6.30" width="441.60" height="437.50" fill="none" stroke="#000" stroke-width="1.6"/>
<g stroke="#000" stroke-width="1.6">
<line x1="662.60" y1="443.80" x2="669.60" y2="443.80"/>
<line x1="662.60" y1="384.42" x2="669.60" y2="384.42"/>
<line x1="662.60" y1="325.04" x2="669.60" y2="325.04"/>
<line x1="662.60" y1="265.66" x2="669.60" y2="265.66"/>
<line x1="662.60" y1="206.28" x2="669.60" y2="206.28"/>
<line x1="662.60" y1="146.90" x2="669.60" y2="146.90"/>
<line x1="662.60" y1="87.52" x2="669.60" y2="87.52"/>
<line x1="662.60" y1="28.14" x2="669.60" y2="28.14"/>
<line x1="669.60" y1="443.80" x2="669.60" y2="450.80"/>
<line x1="743.20" y1="443.80" x2="743.20" y2="450.80"/>
<line x1="816.80" y1="443.80" x2="816.80" y2="450.80"/>
<line x1="890.40" y1="443.80" x2="890.40" y2="450.80"/>
<line x1="964.00" y1="443.80" x2="964.00" y2="450.80"/>
<line x1="1037.60" y1="443.80" x2="1037.60" y2="450.80"/>
<line x1="1111.20" y1="443.80" x2="1111.20" y2="450.80"/>
</g>
<g font-size="25" text-anchor="middle">
<text x="671.00" y="479.3">0</text>
<text x="744.60" y="479.3">0.5</text>
<text x="818.20" y="479.3">1.0</text>
<text x="891.80" y="479.3">1.5</text>
<text x="965.40" y="479.3">2.0</text>
<text x="1039.00" y="479.3">2.5</text>
<text x="1112.60" y="479.3">3.0</text>
</g>
<text transform="translate(807.60,522.7) scale(0.78,1)" font-size="29.5" font-style="italic">v</text>
<text x="817.60" y="526.6" font-size="20.2" font-style="italic">adv</text>
<text x="856.80" y="522.7" font-size="29.5">(mm s</text>
<text transform="translate(932.20,513.1) scale(1.25,1)" font-size="19">−</text>
<text transform="translate(948.50,512.0) scale(0.8,1)" font-size="19.7">1</text>
<text x="957.10" y="522.7" font-size="29.5">)</text>
<g font-size="25" text-anchor="end">
<text x="98.4" y="391.82">0.02</text>
<text x="98.4" y="332.54">0.04</text>
<text x="98.4" y="273.46">0.06</text>
<text x="98.4" y="214.38">0.08</text>
<text x="98.4" y="155.20">0.10</text>
<text x="98.4" y="96.12">0.12</text>
<text x="98.4" y="36.74">0.14</text>
</g>
<text transform="translate(30.8,228.6) rotate(-90)" font-size="29.5" text-anchor="middle">Probability</text>
<text x="3" y="24.1" font-size="29.5">(<tspan font-style="italic">a</tspan>)</text>
<text x="608.6" y="24.1" font-size="29.5">(<tspan font-style="italic">b</tspan>)</text>
<rect x="337.7" y="12.7" width="212.5" height="88.5" fill="#fff" stroke="#000" stroke-width="1.4"/>
<rect x="347.3" y="22.35" width="37.1" height="15.3" fill="rgb(255,228,225)" fill-opacity="0.500" stroke="none"/>
<rect x="347.3" y="22.35" width="37.1" height="15.3" fill="none" stroke="#000" stroke-width="2" stroke-dasharray="2,3.3"/>
<text x="396.9" y="36.80" font-size="25" font-style="italic">Ta</text>
<text transform="translate(436.2,40.40) scale(1.4,1)" font-size="25" text-anchor="middle">=</text>
<text x="450.5" y="36.80" font-size="25">1.0</text>
<text transform="translate(496.6,41.40) scale(1.2,1.2)" font-size="25" text-anchor="middle">×</text>
<text x="511.6" y="36.80" font-size="25">10</text>
<text x="536.1" y="26.60" font-size="17.5">7</text>
<rect x="347.3" y="49.85" width="37.1" height="15.3" fill="rgb(250,128,114)" fill-opacity="0.500" stroke="none"/>
<rect x="347.3" y="49.85" width="37.1" height="15.3" fill="none" stroke="#000" stroke-width="2" stroke-dasharray="7.4,3.2"/>
<text x="396.9" y="66.60" font-size="25" font-style="italic">Ta</text>
<text transform="translate(436.2,70.20) scale(1.4,1)" font-size="25" text-anchor="middle">=</text>
<text x="450.5" y="66.60" font-size="25">3.0</text>
<text transform="translate(496.6,71.20) scale(1.2,1.2)" font-size="25" text-anchor="middle">×</text>
<text x="511.6" y="66.60" font-size="25">10</text>
<text x="536.1" y="56.40" font-size="17.5">7</text>
<rect x="347.3" y="77.35" width="37.1" height="15.3" fill="rgb(176,96,96)" fill-opacity="0.500" stroke="none"/>
<rect x="347.3" y="77.35" width="37.1" height="15.3" fill="none" stroke="#000" stroke-width="2.6"/>
<text x="396.9" y="95.30" font-size="25" font-style="italic">Ta</text>
<text transform="translate(436.2,98.90) scale(1.4,1)" font-size="25" text-anchor="middle">=</text>
<text x="450.5" y="95.30" font-size="25">1.0</text>
<text transform="translate(496.6,99.90) scale(1.2,1.2)" font-size="25" text-anchor="middle">×</text>
<text x="511.6" y="95.30" font-size="25">10</text>
<text x="536.1" y="85.10" font-size="17.5">8</text>
</svg></body></html>
